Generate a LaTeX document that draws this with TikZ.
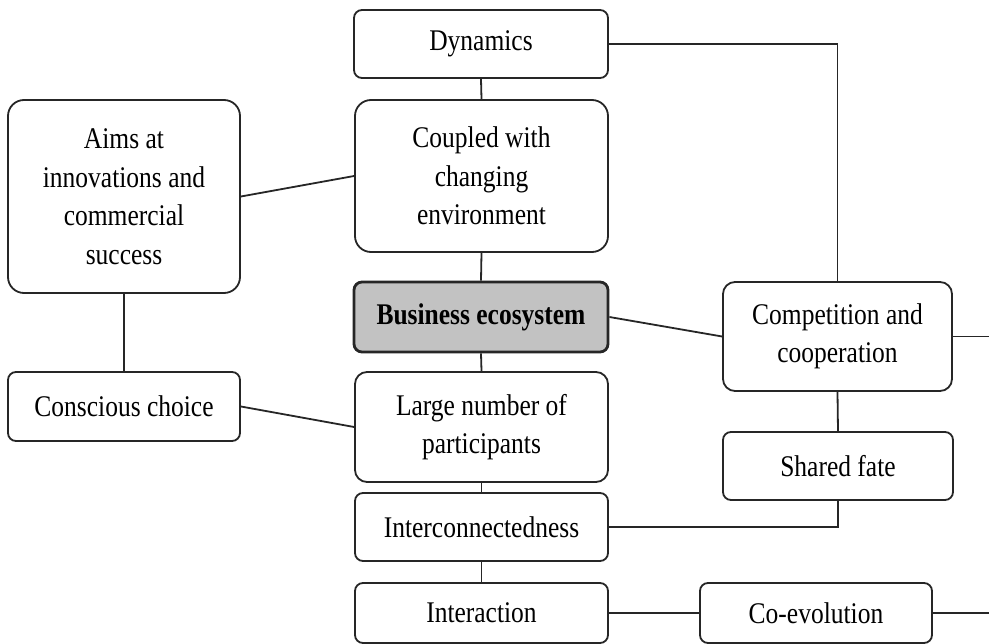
\documentclass[tikz,border=0pt]{standalone}
\usepackage{fontspec}
\setmainfont[FakeStretch=0.85]{Liberation Serif}
\begin{document}
\begin{tikzpicture}[x=1pt,y=-1pt,
  box/.style={draw=black!85, line width=1.8pt, rounded corners=8pt, fill=white,
    align=center, inner sep=0pt, font=\fontsize{30}{38.5}\selectfont},
  bigbox/.style={box, rounded corners=16pt},
  mainbox/.style={box, fill=black!24, line width=2.8pt, font=\fontsize{30}{38.5}\selectfont\bfseries},
  link/.style={draw=black!85, line width=1.8pt}]
\useasboundingbox (0,0) rectangle (989,644);
\node[box, minimum width=254pt, minimum height=68pt] (dyn) at (481,44) {Dynamics};
\node[bigbox, minimum width=253pt, minimum height=152pt] (coup) at (481.5,176) {Coupled with\\changing\\environment};
\node[mainbox, minimum width=254pt, minimum height=70pt] (bus) at (481,317) {Business ecosystem};
\node[bigbox, rounded corners=12pt, minimum width=253pt, minimum height=110pt] (large) at (481.5,427) {Large number of\\participants};
\node[box, minimum width=253pt, minimum height=68pt] (inter) at (481.5,527) {Interconnectedness};
\node[box, minimum width=253pt, minimum height=60pt] (interact) at (481.5,613) {Interaction};
\node[bigbox, minimum width=232pt, minimum height=193pt] (aims) at (124,196.5) {Aims at\\innovations and\\commercial\\success};
\node[box, minimum width=232pt, minimum height=69pt] (cons) at (124,406.5) {Conscious choice};
\node[bigbox, rounded corners=12pt, minimum width=229pt, minimum height=109pt] (comp) at (837.5,336.5) {Competition and\\cooperation};
\node[box, minimum width=230pt, minimum height=68pt] (fate) at (838,466) {Shared fate};
\node[box, minimum width=232pt, minimum height=60pt] (coev) at (816,613) {Co-evolution};
\coordinate (compout) at (989,336.5);
\coordinate (coevout) at (989,613);
\path[link] (dyn.east) -| (comp.north);
\path[link] (dyn.south) -- (coup.north);
\path[link] (coup.south) -- (bus.north);
\path[link] (bus.south) -- (large.north);
\path[link] (large.south) -- (inter.north);
\path[link] (inter.south) -- (interact.north);
\path[link] (aims.east) -- (coup.west);
\path[link] (aims.south) -- (cons.north);
\path[link] (cons.east) -- (large.west);
\path[link] (bus.east) -- (comp.west);
\path[link] (comp.east) -- (compout);
\path[link] (comp.south) -- (fate.north);
\path[link] (inter.east) -| (fate.south);
\path[link] (interact.east) -- (coev.west);
\path[link] (coev.east) -- (coevout);
\end{tikzpicture}
\end{document}
